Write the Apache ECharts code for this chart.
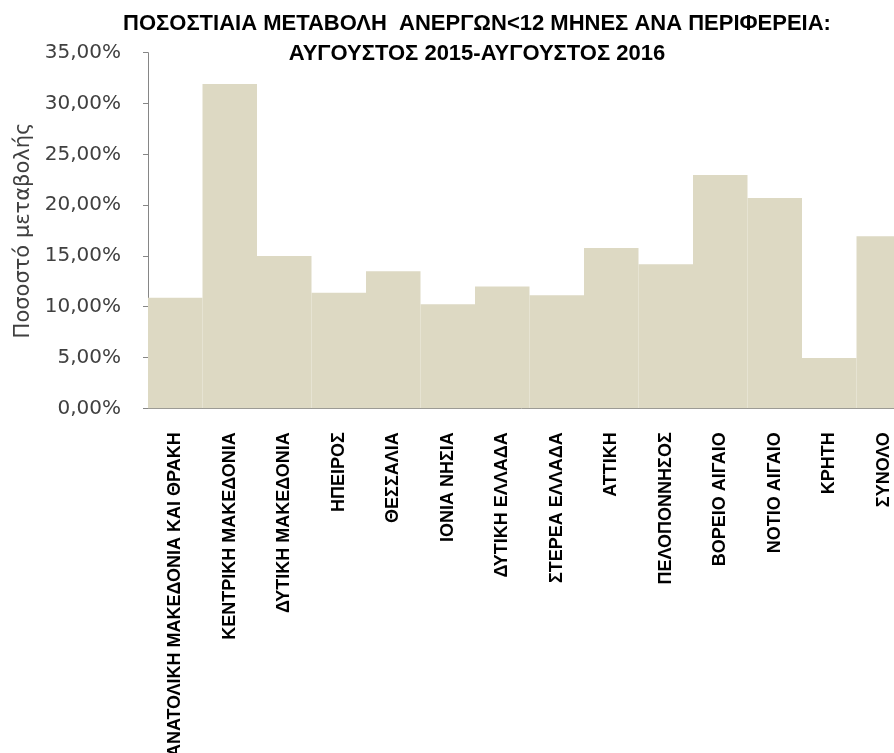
<!DOCTYPE html>
<html>
<head>
<meta charset="utf-8">
<script src="https://cdn.jsdelivr.net/npm/echarts@6/dist/echarts.min.js"></script>
<style>html,body{margin:0;padding:0;background:#fff;}#c{width:894px;height:753px;}</style>
</head>
<body>
<div id="c"></div>
<script>
var titleLines = ['ΠΟΣΟΣΤΙΑΙΑ ΜΕΤΑΒΟΛΗ  ΑΝΕΡΓΩΝ<12 ΜΗΝΕΣ ΑΝΑ ΠΕΡΙΦΕΡΕΙΑ:', 'ΑΥΓΟΥΣΤΟΣ 2015-ΑΥΓΟΥΣΤΟΣ 2016'];
var yAxisTitle = 'Ποσοστό μεταβολής';
var categories = ['ΑΝΑΤΟΛΙΚΗ ΜΑΚΕΔΟΝΙΑ ΚΑΙ ΘΡΑΚΗ','ΚΕΝΤΡΙΚΗ ΜΑΚΕΔΟΝΙΑ','ΔΥΤΙΚΗ ΜΑΚΕΔΟΝΙΑ','ΗΠΕΙΡΟΣ','ΘΕΣΣΑΛΙΑ','ΙΟΝΙΑ ΝΗΣΙΑ','ΔΥΤΙΚΗ ΕΛΛΑΔΑ','ΣΤΕΡΕΑ ΕΛΛΑΔΑ','ΑΤΤΙΚΗ','ΠΕΛΟΠΟΝΝΗΣΟΣ','ΒΟΡΕΙΟ ΑΙΓΑΙΟ','ΝΟΤΙΟ ΑΙΓΑΙΟ','ΚΡΗΤΗ','ΣΥΝΟΛΟ'];
var changePct = [10.89, 31.92, 14.99, 11.38, 13.48, 10.24, 12.00, 11.12, 15.78, 14.17, 22.96, 20.70, 4.95, 16.93];
var yMin = 0, yMax = 35, yStep = 5;

var chart = echarts.init(document.getElementById('c'), null, {renderer: 'canvas'});
chart.setOption({
  animation: false,
  backgroundColor: '#ffffff',
  title: {
    text: titleLines.join('\n'),
    left: 472, textAlign: 'center', top: 4,
    textStyle: {fontFamily: 'Liberation Sans', fontWeight: 'bold', fontSize: 22, color: '#000', lineHeight: 30}
  },
  grid: {left: 148, top: 52.7, bottom: 344.7, right: -17, containLabel: false, outerBoundsMode: 'none'},
  xAxis: {
    type: 'category', data: categories,
    axisLine: {show: true, lineStyle: {color: '#868686', width: 1}},
    axisTick: {show: false},
    axisLabel: {rotate: 90, interval: 0, margin: 24, color: '#000', fontFamily: 'Liberation Sans', fontWeight: 'bold', fontSize: 18}
  },
  yAxis: {
    type: 'value', min: yMin, max: yMax, interval: yStep,
    name: yAxisTitle, nameLocation: 'middle', nameGap: 114, nameRotate: 90,
    nameTextStyle: {fontFamily: 'DejaVu Sans', fontSize: 21, color: '#404040'},
    splitLine: {show: false},
    axisLine: {show: true, lineStyle: {color: '#868686', width: 1}},
    axisTick: {show: true, inside: false, length: 5, lineStyle: {color: '#868686'}},
    axisLabel: {margin: 27, color: '#404040', fontFamily: 'DejaVu Sans', fontSize: 20,
      formatter: function (v) { return v.toFixed(2).replace('.', ',') + '%'; }}
  },
  series: [{
    type: 'bar', data: changePct, barCategoryGap: '0%',
    itemStyle: {color: '#ddd9c3'}
  }]
});
</script>
</body>
</html>
